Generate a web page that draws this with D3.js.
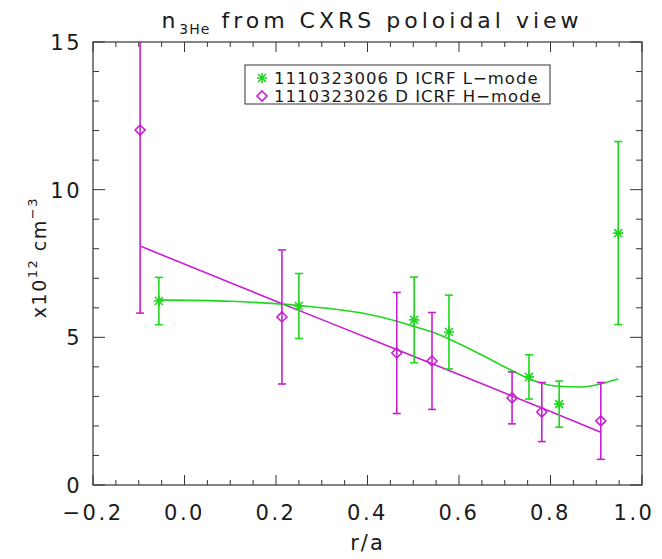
<!DOCTYPE html>
<html><head><meta charset="utf-8">
<script src="https://cdn.jsdelivr.net/npm/d3@7"></script>
<style>body{margin:0;background:#fff;} svg{display:block;} text{font-family:"DejaVu Sans",Arial,sans-serif;font-weight:normal;fill:#1a1a1a;}</style>
</head><body>
<script>
// Data
const xTicks = [-0.2, 0.0, 0.2, 0.4, 0.6, 0.8, 1.0];
const yTicks = [0, 5, 10, 15];
const lX = [-0.056, 0.250, 0.502, 0.578, 0.753, 0.819, 0.948];
const lY = [6.23, 6.06, 5.59, 5.18, 3.66, 2.74, 8.53];
const lErr = [0.80, 1.10, 1.45, 1.25, 0.75, 0.78, 3.10];
const hX = [-0.097, 0.213, 0.464, 0.541, 0.716, 0.781, 0.910];
const hY = [12.02, 5.69, 4.47, 4.20, 2.95, 2.47, 2.17];
const hErr = [6.20, 2.27, 2.05, 1.64, 0.88, 1.00, 1.30];
const lFitX = [-0.056, 0.1, 0.25, 0.42, 0.5, 0.55, 0.59, 0.65, 0.71, 0.77, 0.81, 0.87, 0.915, 0.948];
const lFitY = [6.27, 6.22, 6.08, 5.72, 5.38, 5.13, 4.86, 4.40, 3.92, 3.50, 3.35, 3.32, 3.45, 3.59];
const hFitX = [-0.097, 0.2, 0.42, 0.6, 0.8, 0.91];
const hFitY = [8.09, 6.22, 4.86, 3.74, 2.49, 1.79];
const legendLabels = ["1110323006 D ICRF L\u2212mode", "1110323026 D ICRF H\u2212mode"];

const W = 662, H = 559;
const m = {l: 93, r: 20, t: 42, b: 74};
const green = "#1ed81e", magenta = "#c81ed2";
const svg = d3.select("body").append("svg").attr("width", W).attr("height", H);
const x = d3.scaleLinear().domain([-0.2, 1.0]).range([m.l, W - m.r]);
const y = d3.scaleLinear().domain([0, 15]).range([H - m.b, m.t]);

const defs = svg.append("defs");
defs.append("clipPath").attr("id", "clip").append("rect")
  .attr("x", m.l).attr("y", m.t).attr("width", W - m.r - m.l).attr("height", H - m.b - m.t);

// axes frame and ticks
const axisCol = "#333";
const minorX = d3.range(-0.2, 1.0001, 0.05);
const minorY = d3.range(0, 15.001, 1);
const ax = svg.append("g");
ax.append("rect").attr("x", m.l).attr("y", m.t).attr("width", W - m.r - m.l).attr("height", H - m.b - m.t)
  .attr("fill", "none").attr("stroke", axisCol).attr("stroke-width", 1.2);
function isMajor(v, arr){ return arr.some(t => Math.abs(t - v) < 1e-6); }
minorX.forEach(v => {
  const len = isMajor(v, xTicks) ? 10 : 5;
  ax.append("line").attr("x1", x(v)).attr("x2", x(v)).attr("y1", y(0)).attr("y2", y(0) - len).attr("stroke", axisCol);
  ax.append("line").attr("x1", x(v)).attr("x2", x(v)).attr("y1", y(15)).attr("y2", y(15) + len).attr("stroke", axisCol);
});
minorY.forEach(v => {
  const len = isMajor(v, yTicks) ? 12 : 6;
  ax.append("line").attr("y1", y(v)).attr("y2", y(v)).attr("x1", x(-0.2)).attr("x2", x(-0.2) + len).attr("stroke", axisCol);
  ax.append("line").attr("y1", y(v)).attr("y2", y(v)).attr("x1", x(1.0)).attr("x2", x(1.0) - len).attr("stroke", axisCol);
});
xTicks.forEach(v => {
  ax.append("text").attr("x", x(v) - (v === 1.0 ? 8 : 0)).attr("y", y(0) + 35).attr("text-anchor", "middle")
    .attr("font-size", 21).attr("letter-spacing", 2.5).text(v < 0 ? "\u2212" + Math.abs(v).toFixed(1) : v.toFixed(1));
});
yTicks.forEach(v => {
  ax.append("text").attr("x", m.l - 11).attr("y", y(v) + 8).attr("text-anchor", "end")
    .attr("font-size", 21).attr("letter-spacing", 2.5).text(v);
});

// titles
const t = svg.append("text").attr("x", 372).attr("y", 28).attr("text-anchor", "middle").attr("font-size", 22).attr("letter-spacing", 4);
t.append("tspan").text("n");
t.append("tspan").attr("font-size", 14).attr("dy", 6).attr("letter-spacing", 1).text("3He");
t.append("tspan").attr("dy", -6).text(" from CXRS poloidal view");

svg.append("text").attr("x", x(0.4)).attr("y", 550).attr("text-anchor", "middle").attr("font-size", 21).attr("letter-spacing", 2).text("r/a");
const yl = svg.append("text").attr("transform", "translate(46," + y(7.7) + ") rotate(-90)")
  .attr("text-anchor", "middle").attr("font-size", 19).attr("letter-spacing", 1.5);
yl.append("tspan").text("x10");
yl.append("tspan").attr("font-size", 13).attr("dy", -9).text("12");
yl.append("tspan").attr("dy", 9).text(" cm");
yl.append("tspan").attr("font-size", 13).attr("dy", -9).text("\u22123");

const plot = svg.append("g").attr("clip-path", "url(#clip)");
const line = d3.line().x(d => x(d[0])).y(d => y(d[1])).curve(d3.curveMonotoneX);

// fit lines
plot.append("path").datum(hFitX.map((v, i) => [v, hFitY[i]])).attr("d", line)
  .attr("fill", "none").attr("stroke", magenta).attr("stroke-width", 1.6);
plot.append("path").datum(lFitX.map((v, i) => [v, lFitY[i]])).attr("d", line)
  .attr("fill", "none").attr("stroke", green).attr("stroke-width", 1.6);

function errBars(X, Y, E, col) {
  X.forEach((v, i) => {
    const g = plot.append("g").attr("stroke", col).attr("stroke-width", 1.6);
    g.append("line").attr("x1", x(v)).attr("x2", x(v)).attr("y1", y(Y[i] - E[i])).attr("y2", y(Y[i] + E[i]));
    [Y[i] - E[i], Y[i] + E[i]].forEach(e => {
      g.append("line").attr("x1", x(v) - 4).attr("x2", x(v) + 4).attr("y1", y(e)).attr("y2", y(e));
    });
  });
}
errBars(hX, hY, hErr, magenta);
errBars(lX, lY, lErr, green);

function diamond(g, cx, cy, col) {
  const r = 5;
  g.append("path").attr("d", `M${cx},${cy - r}L${cx + r},${cy}L${cx},${cy + r}L${cx - r},${cy}Z`)
    .attr("fill", "none").attr("stroke", col).attr("stroke-width", 1.6);
}
function star(g, cx, cy, col) {
  const r = 5;
  const p = `M${cx - r},${cy}L${cx + r},${cy}M${cx - r * 0.8},${cy - r * 0.8}L${cx + r * 0.8},${cy + r * 0.8}M${cx - r * 0.8},${cy + r * 0.8}L${cx + r * 0.8},${cy - r * 0.8}M${cx},${cy - r}L${cx},${cy + r}`;
  g.append("path").attr("d", p).attr("fill", "none").attr("stroke", col).attr("stroke-width", 1.6);
}
hX.forEach((v, i) => diamond(plot, x(v), y(hY[i]), magenta));
lX.forEach((v, i) => star(plot, x(v), y(lY[i]), green));

// legend
const lg = svg.append("g");
lg.append("rect").attr("x", 245).attr("y", 65).attr("width", 305).attr("height", 39)
  .attr("fill", "#fff").attr("stroke", "#333").attr("stroke-width", 1);
star(lg, 262, 78, green);
diamond(lg, 262, 96, magenta);
lg.append("text").attr("x", 274).attr("y", 84).attr("font-size", 16.5).attr("letter-spacing", 1).text(legendLabels[0]);
lg.append("text").attr("x", 274).attr("y", 102).attr("font-size", 16.5).attr("letter-spacing", 1).text(legendLabels[1]);
</script>
</body></html>
